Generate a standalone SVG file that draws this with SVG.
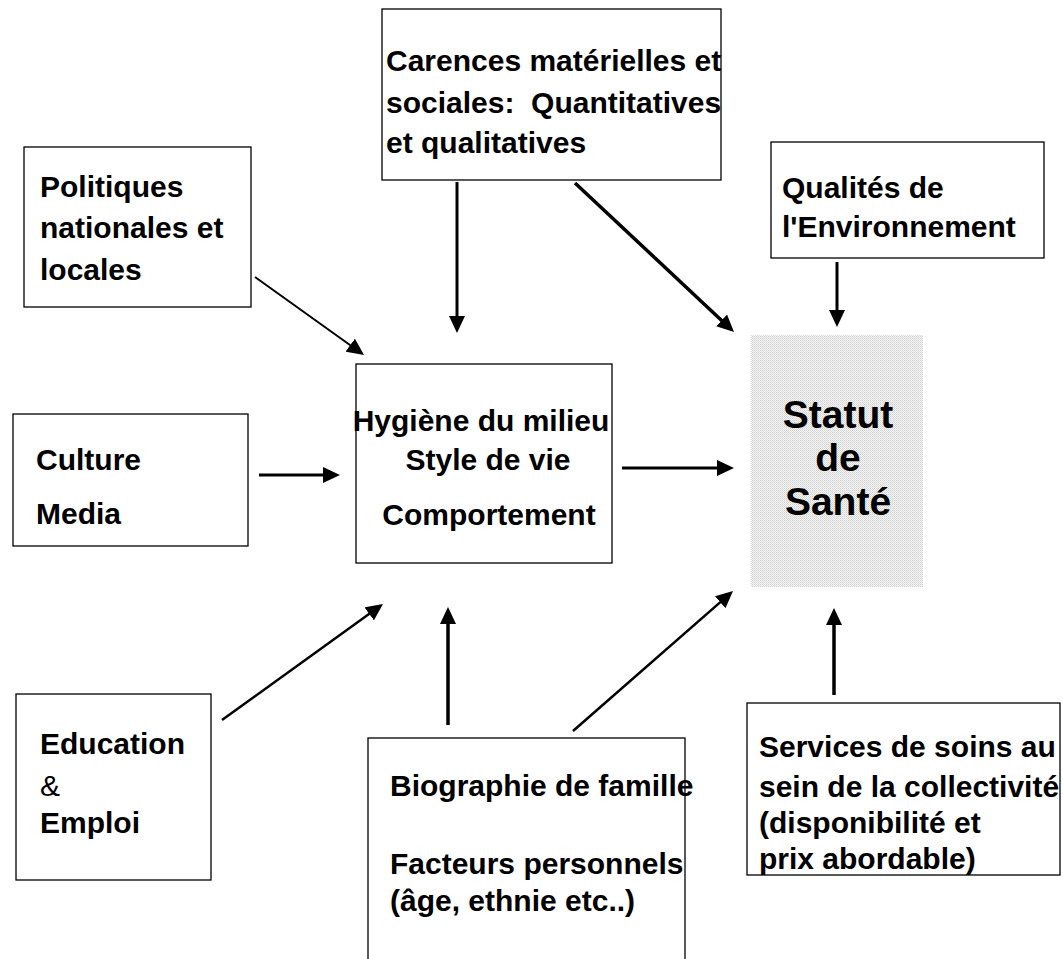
<svg xmlns="http://www.w3.org/2000/svg" width="1063" height="959" viewBox="0 0 1063 959">
<style>
.box{fill:#fff;stroke:#000;stroke-width:1.3}
.t{font-family:"Liberation Sans",Arial,sans-serif;font-weight:bold;font-size:30px;fill:#000;white-space:pre}
.r{font-weight:normal}
.big{font-size:39px;text-anchor:middle}
.mid{text-anchor:middle}
.c{stroke:#000;fill:none}
</style>
<defs>
<marker id="ah" markerUnits="userSpaceOnUse" markerWidth="17" markerHeight="16" refX="7" refY="8" orient="auto">
<path d="M0,0 L17,8 L0,16 z" fill="#000"/>
</marker>
<pattern id="dots" width="2" height="2" patternUnits="userSpaceOnUse">
<rect width="2" height="2" fill="#f6f6f6"/>
<rect width="1" height="1" fill="#cfcfcf"/>
<rect x="1" y="1" width="1" height="1" fill="#dcdcdc"/>
</pattern>
</defs>
<rect width="1063" height="959" fill="#fff"/>

<g id="carences">
<rect class="box" x="382" y="9" width="339" height="171"/>
<text class="t" x="386" y="71">Carences matérielles et</text>
<text class="t" x="386" y="113">sociales:  Quantitatives</text>
<text class="t" x="386" y="153">et qualitatives</text>
</g>

<g id="politiques">
<rect class="box" x="24" y="147" width="227" height="160"/>
<text class="t" x="40" y="197">Politiques</text>
<text class="t" x="40" y="238">nationales et</text>
<text class="t" x="40" y="280">locales</text>
</g>

<g id="qualites">
<rect class="box" x="771" y="142" width="273" height="116"/>
<text class="t" x="782" y="198">Qualités de</text>
<text class="t" x="782" y="237">l'Environnement</text>
</g>

<g id="culture">
<rect class="box" x="13" y="414" width="235" height="132"/>
<text class="t" x="36" y="470">Culture</text>
<text class="t" x="36" y="524">Media</text>
</g>

<g id="hygiene">
<rect class="box" x="356" y="364" width="256" height="199"/>
<text class="t mid" x="481" y="431">Hygiène du milieu</text>
<text class="t mid" x="488" y="470">Style de vie</text>
<text class="t mid" x="489" y="525">Comportement</text>
</g>

<g id="statut">
<rect x="751" y="335" width="172" height="252" fill="url(#dots)"/>
<text class="t big" x="838" y="428">Statut</text>
<text class="t big" x="838" y="471">de</text>
<text class="t big" x="838" y="515">Santé</text>
</g>

<g id="education">
<rect class="box" x="16" y="694" width="195" height="186"/>
<text class="t" x="40" y="754">Education</text>
<text class="t r" x="40" y="796">&amp;</text>
<text class="t" x="40" y="833">Emploi</text>
</g>

<g id="biographie">
<rect class="box" x="368" y="738" width="317" height="240"/>
<text class="t" x="390" y="796">Biographie de famille</text>
<text class="t" x="390" y="874">Facteurs personnels</text>
<text class="t" x="390" y="911">(âge, ethnie etc..)</text>
</g>

<g id="services">
<rect class="box" x="747" y="703" width="313" height="172"/>
<text class="t" x="759" y="757">Services de soins au</text>
<text class="t" x="759" y="797">sein de la collectivité</text>
<text class="t" x="759" y="833">(disponibilité et</text>
<text class="t" x="759" y="869">prix abordable)</text>
</g>

<g id="connectors">
<line class="c" x1="457" y1="182" x2="457" y2="323" stroke-width="3" marker-end="url(#ah)"/>
<line class="c" x1="575" y1="183" x2="726.7" y2="325.2" stroke-width="3.5" marker-end="url(#ah)"/>
<line class="c" x1="255" y1="277" x2="355.9" y2="349.2" stroke-width="2" marker-end="url(#ah)"/>
<line class="c" x1="837" y1="262" x2="837" y2="317" stroke-width="3" marker-end="url(#ah)"/>
<line class="c" x1="259" y1="475" x2="330" y2="475" stroke-width="3" marker-end="url(#ah)"/>
<line class="c" x1="622" y1="468" x2="724" y2="468" stroke-width="3" marker-end="url(#ah)"/>
<line class="c" x1="222" y1="720" x2="374.9" y2="609.8" stroke-width="2.5" marker-end="url(#ah)"/>
<line class="c" x1="448" y1="725" x2="448" y2="617" stroke-width="3.5" marker-end="url(#ah)"/>
<line class="c" x1="573" y1="731" x2="725.5" y2="597.6" stroke-width="2.5" marker-end="url(#ah)"/>
<line class="c" x1="834" y1="695" x2="834" y2="618" stroke-width="3.5" marker-end="url(#ah)"/>
</g>
</svg>
